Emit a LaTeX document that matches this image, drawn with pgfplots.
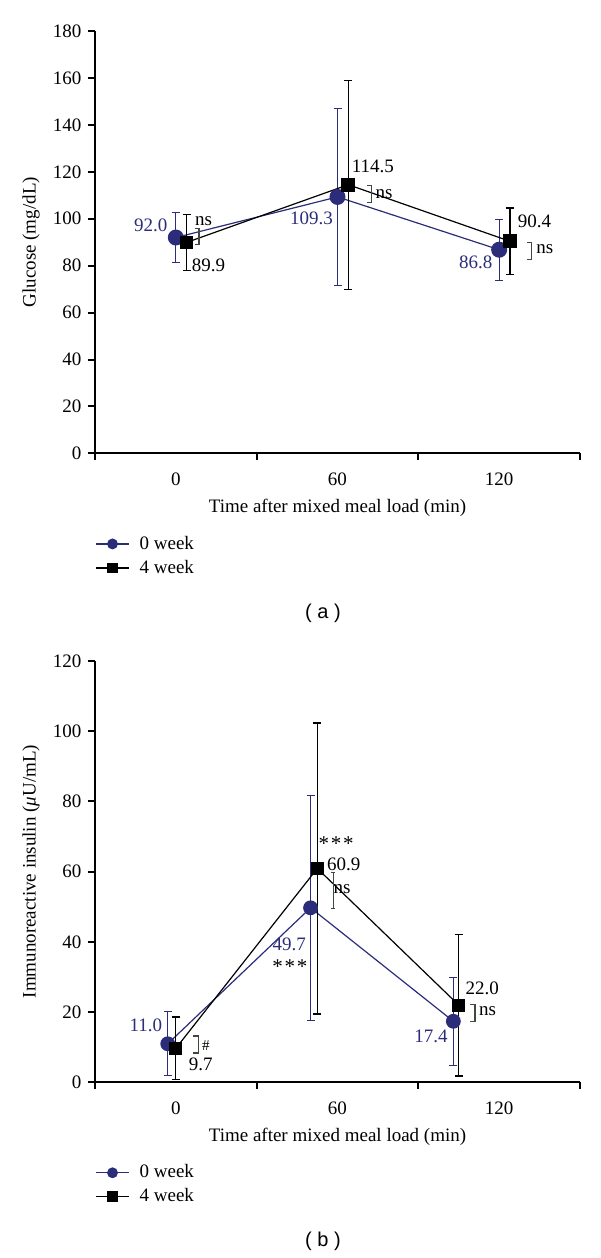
\documentclass[border=0pt]{standalone}
\usepackage{fontspec}
\setmainfont{Liberation Serif}
\newfontfamily\panelfont{Liberation Sans}
\usepackage{pgfplots}
\pgfplotsset{compat=1.18}

\definecolor{navy}{HTML}{2B2D7A}
\definecolor{brk}{HTML}{3E4A3E}
\tikzset{lab/.style={inner sep=0pt}}
\newcommand{\stars}{{\fontsize{10.5}{12}\selectfont *\kern0.9pt*\kern0.9pt*}}

\pgfplotsset{
  mmt/.style={
    scale only axis, width=242.5pt,
    axis lines=left, axis line style={line width=1pt,-},
    xmin=-30, xmax=150, ymin=0,
    xtick={0,60,120}, minor xtick={-30,30,90,150},
    tick align=outside, major tick length=3.5pt, minor tick length=3.2pt,
    tick style={line width=1pt, black},
    major x tick style={draw=none},
    /pgf/number format/assume math mode=true,
    xticklabel style={yshift=-3pt},
    every axis y label/.style={at={(axis description cs:-0.132,0.5)},rotate=90,anchor=center},
    every axis x label/.style={at={(axis description cs:0.5,-0.128)},anchor=center},
    xlabel={Time after mixed meal load (min)},
    clip=false,
    legend style={at={(axis description cs:0,-0.192)}, anchor=north west,
      draw=none, fill=none, inner sep=0pt, row sep=3pt,
      nodes={inner sep=0.5pt},
      /tikz/every odd column/.append style={column sep=4.5pt}},
    legend cell align=left,
    legend image code/.code={\draw[mark repeat=2,mark phase=2,#1]
      plot coordinates {(0pt,0pt)(8.25pt,0pt)(16.5pt,0pt)};},
    legend image post style={mark size=2.4pt},
  },
  wk0/.style={navy, line width=0.6pt, mark=*, mark options={fill=navy, draw=navy},
    error bars/.cd, y dir=both, y explicit,
    error bar style={navy, line width=0.6pt},
    error mark options={rotate=90, mark size=2pt, navy, line width=0.6pt}},
  wk4/.style={black, line width=0.6pt, mark=square*, mark options={fill=black, draw=black},
    error bars/.cd, y dir=both, y explicit,
    error bar style={black, line width=0.6pt},
    error mark options={rotate=90, mark size=2pt, black, line width=0.6pt}},
}

\begin{document}
\fontsize{9.5}{11}\selectfont
\begin{tikzpicture}
% (a) glucose
\begin{axis}[mmt, at={(47.5pt,-226.7pt)}, anchor=south west, height=211.2pt,
  ymax=180, ytick={0,20,...,180}, ylabel={Glucose (mg/dL)}]
\addplot[mark size=3.7pt, wk0] table[x=x, y=y, y error=e] {
x y e
0 92.0 10.5
60 109.3 37.6
120 86.8 13.0
};
\addlegendentry{0 week}
\addplot[mark size=3.1pt, wk4] table[x=x, y=y, y error=e] {
x y e
4 89.9 12.0
64 114.5 44.5
124 90.4 14.2
};
\addlegendentry{4 week}
\node[lab, navy, anchor=east] at (axis cs:-3,97.4) {92.0};
\node[lab, anchor=west] at (axis cs:7,99) {ns};
\draw[brk, line width=0.6pt] (axis cs:7,96) -- (axis cs:8.6,96) -- (axis cs:8.6,89) -- (axis cs:7,89);
\node[lab, anchor=west] at (axis cs:5.8,80) {89.9};
\node[lab, anchor=west] at (axis cs:65.2,122.2) {114.5};
\draw[brk, line width=0.6pt] (axis cs:70.9,114) -- (axis cs:72.6,114) -- (axis cs:72.6,107) -- (axis cs:70.9,107);
\node[lab, anchor=west] at (axis cs:74,110.6) {ns};
\node[lab, navy, anchor=east] at (axis cs:58.4,100.2) {109.3};
\node[lab, anchor=west] at (axis cs:126.8,98.8) {90.4};
\draw[brk, line width=0.6pt] (axis cs:130.3,89.8) -- (axis cs:132,89.8) -- (axis cs:132,82.7) -- (axis cs:130.3,82.7);
\node[lab, anchor=west] at (axis cs:133.7,87) {ns};
\node[lab, navy, anchor=east] at (axis cs:117.6,81.4) {86.8};
\end{axis}

% (b) insulin
\begin{axis}[mmt, at={(47.5pt,-541.2pt)}, anchor=south west, height=210.8pt,
  ymax=120, ytick={0,20,...,120}, ylabel={Immunoreactive insulin ({\itshape μ}U/mL)}]
\addplot[mark size=3.4pt, wk0] table[x=x, y=y, y error=e] {
x y e
-3 11.0 9.1
50 49.7 32.0
103 17.4 12.5
};
\addlegendentry{0 week}
\addplot[mark size=2.9pt, wk4] table[x=x, y=y, y error=e] {
x y e
0 9.7 8.9
52.5 60.9 41.4
105 22.0 20.2
};
\addlegendentry{4 week}
\node[lab, navy, anchor=east] at (axis cs:-4.9,16.3) {11.0};
\draw[brk, line width=0.6pt] (axis cs:6.5,13.2) -- (axis cs:8.4,13.2) -- (axis cs:8.4,8.4) -- (axis cs:6.5,8.4);
\node[lab, anchor=west, font=\fontsize{7.5}{9}\selectfont] at (axis cs:9.6,10.6) {\#};
\node[lab, anchor=west] at (axis cs:4.7,5.2) {9.7};
\node[lab, anchor=base] at (axis cs:59.5,65.9) {\stars};
\node[lab, anchor=west] at (axis cs:56,62.2) {60.9};
\draw[brk, line width=0.6pt] (axis cs:57.6,59.7) -- (axis cs:59.2,59.7)
  (axis cs:58.4,59.7) -- (axis cs:58.4,49.5)
  (axis cs:57.6,49.5) -- (axis cs:59.2,49.5);
\node[lab, anchor=west] at (axis cs:58.4,54.9) {ns};
\node[lab, navy, anchor=east] at (axis cs:48.4,39.4) {49.7};
\node[lab, anchor=base] at (axis cs:42.3,31.1) {\stars};
\node[lab, anchor=west] at (axis cs:107.4,26.8) {22.0};
\draw[brk, line width=0.6pt] (axis cs:109.2,22.2) -- (axis cs:111,22.2) -- (axis cs:111,17.4) -- (axis cs:109.2,17.4);
\node[lab, anchor=west] at (axis cs:112.4,20.4) {ns};
\node[lab, navy, anchor=east] at (axis cs:101,13) {17.4};
\end{axis}

\node[font=\panelfont\fontsize{10}{12}\selectfont] at (161.5pt,-306.7pt) {( a )};
\node[font=\panelfont\fontsize{10}{12}\selectfont] at (161.5pt,-620.8pt) {( b )};
\pgfresetboundingbox
\path[use as bounding box] (0pt,0pt) rectangle (300pt,-629pt);
\end{tikzpicture}
\end{document}
